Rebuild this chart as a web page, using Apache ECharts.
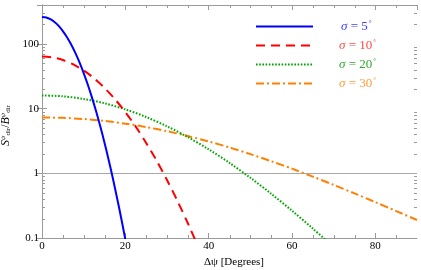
<!DOCTYPE html>
<html><head><meta charset="utf-8">
<script src="https://cdn.jsdelivr.net/npm/echarts@6/dist/echarts.min.js"></script>
<style>html,body{margin:0;padding:0;background:#fff}#c{width:421px;height:270px}</style>
</head><body><div id="c"></div>
<script>
// ---- data ----
const seriesNames = ['σ = 5°', 'σ = 10°', 'σ = 20°', 'σ = 30°'];
const x5  = [0,1,2,3,4,5,6,7,8,9,10,11,12,13,14,15,16,17,18,19,20];
const y5  = [261,256,241,218,190,158,127,98.1,72.6,51.8,35.5,23.4,14.8,9.02,5.28,2.98,1.61,0.841,0.42,0.204,0.095];
const x10 = [0,2.5,5,7.5,10,12.5,15,17.5,20,22.5,25,27.5,30,32.5,35,37.5,40];
const y10 = [64,62.0,56.5,48.3,38.9,29.4,20.9,14.0,8.84,5.26,2.95,1.57,0.787,0.375,0.169,0.0724,0.0295];
const x20 = [0,5,10,15,20,25,30,35,40,45,50,55,60,65,70];
const y20 = [16,15.5,14.1,12.1,9.75,7.42,5.33,3.63,2.35,1.45,0.853,0.483,0.264,0.140,0.0723];
const x30 = [0,5,10,15,20,25,30,35,40,45,50,55,60,65,70,75,80,85,90];
const y30 = [7.3,7.20,6.91,6.45,5.86,5.19,4.48,3.77,3.11,2.51,1.98,1.54,1.18,0.889,0.662,0.489,0.358,0.261,0.190];
const xTicks = [0,20,40,60,80];
const xMinorTicks = [5,10,15,25,30,35,45,50,55,65,70,75,85];
const yTicks = [0.1,1,10,100];
const yMinorTicks = [0.2,0.3,0.4,0.5,0.6,0.7,0.8,0.9,2,3,4,5,6,7,8,9,20,30,40,50,60,70,80,90,200,300,400];
const refLine = 1;
// ---------------------------------------

const colors = ['#0000ff','#ff0000','#00a800','#ff8000'];
const textColors = ['#4040ff','#ff4848','#30a830','#ff9a40'];
const pair = (xs, ys) => xs.map((x,i)=>[x, ys[i]]);
const frame = '#9a9a9a';
const serif = '"Liberation Serif","DejaVu Serif",serif';

const chart = echarts.init(document.getElementById('c'), null, {renderer:'canvas'});

function tickSeries(data, isY){
  return {
    type:'custom', silent:true, z:5, clip:false,
    xAxisIndex:0, yAxisIndex:0,
    data: data.map(v => isY ? [0, v] : [v, 1]),
    renderItem: function(params, api){
      const cs = params.coordSys;
      const L = 3;
      const st = {stroke: frame, lineWidth: 1};
      if (isY) {
        const p = api.coord([0, api.value(1)]);
        const y = Math.round(p[1]) + 0.5;
        return {type:'group', children:[
          {type:'line', shape:{x1:cs.x, y1:y, x2:cs.x+L, y2:y}, style:st},
          {type:'line', shape:{x1:cs.x+cs.width-L, y1:y, x2:cs.x+cs.width, y2:y}, style:st}
        ]};
      } else {
        const p = api.coord([api.value(0), 1]);
        const x = Math.round(p[0]) + 0.5;
        return {type:'group', children:[
          {type:'line', shape:{x1:x, y1:cs.y+cs.height, x2:x, y2:cs.y+cs.height-L}, style:st},
          {type:'line', shape:{x1:x, y1:cs.y, x2:x, y2:cs.y+L}, style:st}
        ]};
      }
    }
  };
}

const legendFmt = name => {
  const m = name.match(/σ = (\d+)°/);
  return '{i|σ}{n| = ' + m[1] + '}{d|°}';
};

const yFmt = v => {
  const e = Math.log10(v);
  if (Math.abs(e - Math.round(e)) > 1e-6) return '';
  const r = Math.round(e);
  return r < 0 ? (Math.pow(10, r)).toFixed(-r) : String(Math.pow(10, r));
};

const lineStyles = [
  {width:2, type:'solid'},
  {width:2, type:[9,6]},
  {width:2, type:[1.6,1.6]},
  {width:2, type:[8,3,2,3]}
];
const datasets = [pair(x5,y5), pair(x10,y10), pair(x20,y20), pair(x30,y30)];

const series = datasets.map((d,i)=>({
  name: seriesNames[i], type:'line', data:d, symbol:'none', smooth:0.3,
  z: 10 - i,
  lineStyle: Object.assign({color: colors[i]}, lineStyles[i]),
  itemStyle: {color: colors[i]},
  clip: true
}));
series[0].markLine = {
  silent:true, symbol:'none', label:{show:false}, z:1,
  lineStyle:{color:'#a8a8a8', width:1.2, type:'solid'},
  data:[{yAxis: refLine}]
};
series.push(tickSeries(yMinorTicks, true));
series.push(tickSeries(xMinorTicks, false));

chart.setOption({
  animation:false,
  backgroundColor:'#ffffff',
  grid:{left:42, right:4, top:5, bottom:32, containLabel:false, outerBoundsMode:'none'},
  legend:{
    orient:'vertical', left:250, top:15, itemWidth:57, itemHeight:14, itemGap:6,
    itemStyle:{opacity:0},
    formatter: legendFmt,
    data: seriesNames.map((n,i)=>({name:n, textStyle:{color:textColors[i], padding:[0,0,0, i===0?23:21]}})),
    textStyle:{
      fontFamily: serif, fontSize:13,
      rich:{
        i:{fontFamily:serif, fontStyle:'italic', fontSize:13},
        n:{fontFamily:serif, fontSize:13},
        d:{fontFamily:serif, fontSize:7, verticalAlign:'top', padding:[0,0,6,1]}
      }
    }
  },
  xAxis:[{
    type:'value', min:0, max:90, interval:20, position:'bottom',
    name:'Δψ [Degrees]', nameLocation:'middle', nameGap:17,
    nameTextStyle:{fontFamily:serif, fontSize:11, color:'#000', padding:[0,0,0,9]},
    axisLine:{show:true, lineStyle:{color:frame}},
    axisTick:{show:true, inside:true, length:5, lineStyle:{color:frame}},
    axisLabel:{fontFamily:serif, fontSize:11, color:'#000', margin:3, showMaxLabel:false,
      formatter: v => xTicks.indexOf(v) >= 0 ? String(v) : ''},
    splitLine:{show:false}
  },{
    type:'value', min:0, max:90, interval:20, position:'top',
    axisLine:{show:true, lineStyle:{color:frame}},
    axisTick:{show:true, inside:true, length:5, lineStyle:{color:frame}},
    axisLabel:{show:false}, splitLine:{show:false}
  }],
  yAxis:[{
    type:'log', logBase:10, min:0.1, max:400, interval:1, position:'left',
    name:'{s|S}{sp|ψ}{sb|dir}{n|/}{s|B}{sp|ψ}{sb|dir}',
    nameLocation:'middle', nameGap:26, nameRotate:90,
    nameTextStyle:{fontFamily:serif, fontSize:11, color:'#000', padding:[0,8,0,0],
      rich:{
        s:{fontFamily:serif, fontStyle:'italic', fontSize:12, color:'#000'},
        sp:{fontFamily:serif, fontStyle:'italic', fontSize:7, verticalAlign:'top', color:'#000'},
        sb:{fontFamily:serif, fontSize:7, verticalAlign:'bottom', color:'#000'},
        n:{fontFamily:serif, fontSize:12, color:'#000'}
      }},
    axisLine:{show:true, lineStyle:{color:frame}},
    axisTick:{show:true, inside:true, length:5, lineStyle:{color:frame}},
    axisLabel:{fontFamily:serif, fontSize:11, color:'#000', margin:3, showMaxLabel:false, formatter:yFmt},
    splitLine:{show:false}
  },{
    type:'log', logBase:10, min:0.1, max:400, interval:1, position:'right',
    axisLine:{show:true, lineStyle:{color:frame}},
    axisTick:{show:true, inside:true, length:5, lineStyle:{color:frame}},
    axisLabel:{show:false}, splitLine:{show:false}
  }],
  series: series
});
</script>
</body></html>
